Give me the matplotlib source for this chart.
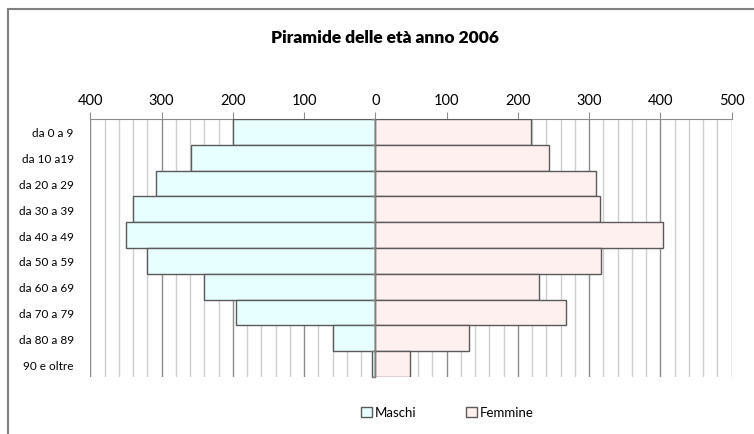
import matplotlib.pyplot as plt
import numpy as np
from matplotlib.patches import Rectangle
from matplotlib.ticker import MultipleLocator

plt.rcParams['font.family'] = ['Lato', 'DejaVu Sans']

fasce = ["da 0 a 9", "da 10 a19", "da 20 a 29", "da 30 a 39", "da 40 a 49",
         "da 50 a 59", "da 60 a 69", "da 70 a 79", "da 80 a 89", "90 e oltre"]
maschi = [200, 259, 308, 340, 350, 320, 241, 196, 60, 5]
femmine = [219, 244, 310, 315, 404, 317, 230, 267, 131, 48]
tick_vals = [-400, -300, -200, -100, 0, 100, 200, 300, 400, 500]
tick_labels = ["400", "300", "200", "100", "0", "100", "200", "300", "400", "500"]

fig = plt.figure(figsize=(7.54, 4.35), dpi=100)
ax = fig.add_axes([0.1198, 0.131, 0.8506, 0.593])

y = np.arange(len(fasce))
ax.barh(y, [-m for m in maschi], height=1.0, color='#E8FFFF', edgecolor='#5A5A5A',
        linewidth=1.0, label='Maschi', zorder=3)
ax.barh(y, femmine, height=1.0, color='#FFF0F0', edgecolor='#5A5A5A',
        linewidth=1.0, label='Femmine', zorder=3)

ax.set_xlim(-400, 500)
ax.set_ylim(len(fasce) - 0.5, -0.5)

ax.xaxis.set_minor_locator(MultipleLocator(20))
ax.grid(which='minor', axis='x', color='#CFCFCF', linewidth=1.0, zorder=0)
ax.grid(which='major', axis='x', color='#8C8C8C', linewidth=1.0, zorder=1)

ax.xaxis.tick_top()
ax.set_xticks(tick_vals)
ax.set_xticklabels(tick_labels, fontsize=10.5)
ax.tick_params(axis='x', which='major', length=5, color='#8C8C8C', pad=4)
ax.tick_params(axis='x', which='minor', length=0)

ax.set_yticks(y)
ax.set_yticklabels(fasce, fontsize=8.5)
ax.tick_params(axis='y', length=0, pad=12)

for s in ['left', 'right', 'bottom']:
    ax.spines[s].set_visible(False)
ax.spines['top'].set_color('#8C8C8C')

# asse verticale sullo zero con le tacche tra le categorie
ax.axvline(0, color='#7F7F7F', linewidth=1.0, zorder=4)
for b in np.arange(-0.5, len(fasce), 1.0):
    ax.plot([-5, 0], [b, b], color='#7F7F7F', linewidth=1.0, zorder=4, clip_on=False)

fig.text(0.511, 0.912, "Piramide delle età anno 2006", ha='center', va='center',
         fontsize=12.5, fontweight='heavy')

fig.legend(loc='center', bbox_to_anchor=(0.593, 0.05), ncol=2, frameon=False,
           fontsize=9.5, handlelength=0.8, handleheight=0.8, handletextpad=0.2,
           columnspacing=3.8)

fig.patches.append(Rectangle((8 / 754, -0.1), 1.2, 1.1 - 10 / 435, transform=fig.transFigure,
                             fill=False, edgecolor='#7F7F7F', linewidth=1.5))

fig.savefig("out.png", dpi=100)
